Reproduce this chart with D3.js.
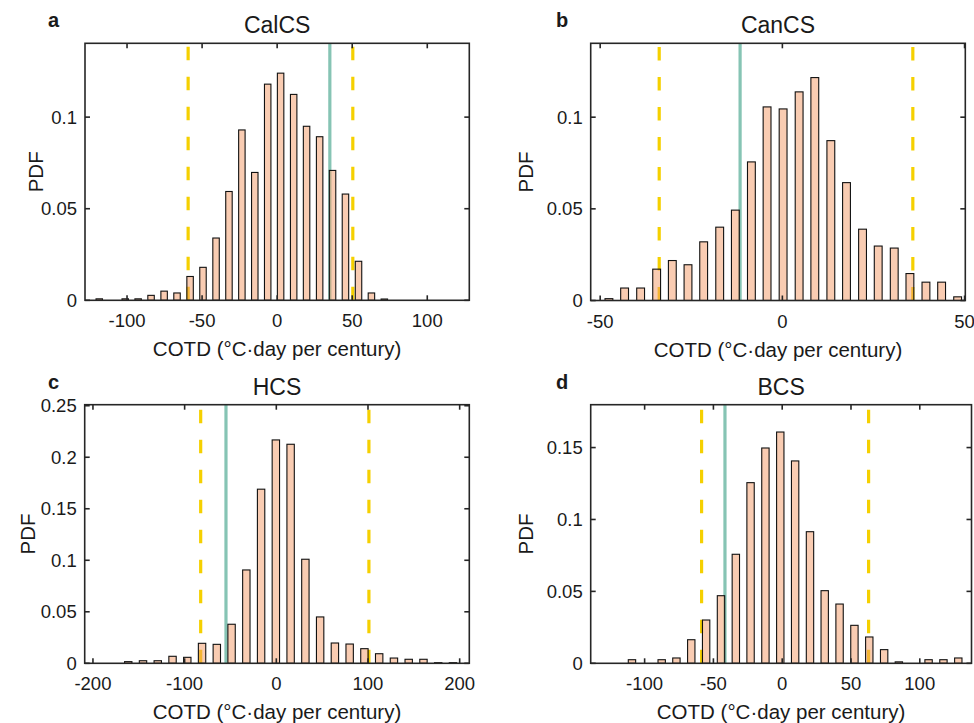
<!DOCTYPE html>
<html>
<head>
<meta charset="utf-8">
<script src="https://cdn.jsdelivr.net/npm/d3@7"></script>
<style>
  html, body { margin: 0; padding: 0; background: #fff; }
  svg { display: block; }
  text { font-family: "Liberation Sans", Arial, Helvetica, sans-serif; fill: #1a1a1a; }
</style>
</head>
<body>
<svg id="chart" width="974" height="723"></svg>
<script>
// ---------------- DATA ----------------
// Panel a: CalCS
const calcsCenters = [-118.5, -101.2, -92.6, -84.0, -75.3, -66.7, -58.0, -49.4, -40.7, -32.1, -23.5, -14.9, -6.3, 2.3, 11.0, 19.6, 28.3, 36.9, 45.5, 54.2, 62.8, 71.4];
const calcsPdf     = [0.0008, 0.0008, 0.0008, 0.0027, 0.005, 0.004, 0.013, 0.018, 0.034, 0.0594, 0.093, 0.0698, 0.118, 0.124, 0.1124, 0.095, 0.0893, 0.0709, 0.058, 0.0213, 0.004, 0.0007];
const calcsBounds  = [-59.3, 50.4];
const calcsObs     = 35.1;

// Panel b: CanCS
const cancsCenters = [-47.6, -43.3, -38.9, -34.5, -30.2, -25.9, -21.6, -17.2, -12.9, -8.5, -4.2, 0.2, 4.6, 8.9, 13.3, 17.6, 22.0, 26.3, 30.7, 35.0, 39.4, 43.7, 48.1];
const cancsPdf     = [0.001, 0.0068, 0.0068, 0.0171, 0.0218, 0.0195, 0.032, 0.040, 0.0493, 0.0756, 0.1056, 0.1045, 0.1138, 0.1216, 0.0872, 0.0643, 0.0389, 0.0297, 0.0286, 0.0147, 0.010, 0.010, 0.002];
const cancsBounds  = [-33.8, 35.8];
const cancsObs     = -11.6;

// Panel c: HCS
const hcsCenters = [-161.5, -145.4, -129.3, -113.2, -97.1, -81.0, -64.9, -48.8, -32.7, -16.6, -0.5, 15.6, 31.7, 47.8, 63.9, 80.0, 96.1, 112.2, 128.3, 144.4, 160.5, 176.6, 192.7];
const hcsPdf     = [0.0016, 0.0025, 0.0025, 0.0068, 0.0058, 0.0194, 0.0184, 0.0379, 0.0906, 0.169, 0.2168, 0.2126, 0.101, 0.045, 0.0197, 0.0187, 0.0142, 0.0093, 0.0051, 0.0039, 0.0039, 0.0006, 0.0006];
const hcsBounds  = [-82.5, 101.0];
const hcsObs     = -54.9;

// Panel d: BCS
const bcsCenters = [-109.2, -87.6, -76.9, -66.1, -55.3, -44.5, -33.7, -23.0, -12.2, -1.4, 9.4, 20.2, 30.9, 41.7, 52.5, 63.3, 74.1, 84.8, 106.4, 117.2, 128.0];
const bcsPdf     = [0.0025, 0.0025, 0.0037, 0.0164, 0.0301, 0.047, 0.0758, 0.1256, 0.1497, 0.1608, 0.1407, 0.0915, 0.0505, 0.0412, 0.0264, 0.0183, 0.0095, 0.001, 0.0025, 0.0025, 0.0037];
const bcsBounds  = [-58.6, 62.8];
const bcsObs     = -41.6;

// Axis ranges and ticks
const calcsXDomain = [-128, 128];   const calcsYDomain = [0, 0.1403];
const cancsXDomain = [-52.6, 50.2]; const cancsYDomain = [0, 0.1403];
const hcsXDomain   = [-209, 210.5]; const hcsYDomain   = [0, 0.251];
const bcsXDomain   = [-139.2, 137.6]; const bcsYDomain = [0, 0.1798];

const calcsXTicks = [-100, -50, 0, 50, 100];
const cancsXTicks = [-50, 0, 50];
const hcsXTicks   = [-200, -100, 0, 100, 200];
const bcsXTicks   = [-100, -50, 0, 50, 100];
const calcsYTicks = [0, 0.05, 0.1];
const cancsYTicks = [0, 0.05, 0.1];
const hcsYTicks   = [0, 0.05, 0.1, 0.15, 0.2, 0.25];
const bcsYTicks   = [0, 0.05, 0.1, 0.15];

const titles  = ["CalCS", "CanCS", "HCS", "BCS"];
const letters = ["a", "b", "c", "d"];
const xLabel  = "COTD (°C·day per century)";
const yLabel  = "PDF";

// ---------------- LAYOUT ----------------
const panels = [
  { centers: calcsCenters, pdf: calcsPdf, bounds: calcsBounds, obs: calcsObs, xd: calcsXDomain, yd: calcsYDomain, xt: calcsXTicks, yt: calcsYTicks,
    box: { x0: 85, x1: 469.3, y0: 43.3, y1: 300.3 }, ylabX: 36, letterX: 48 },
  { centers: cancsCenters, pdf: cancsPdf, bounds: cancsBounds, obs: cancsObs, xd: cancsXDomain, yd: cancsYDomain, xt: cancsXTicks, yt: cancsYTicks,
    box: { x0: 590.7, x1: 965.3, y0: 43.3, y1: 300.5 }, ylabX: 526, letterX: 556 },
  { centers: hcsCenters, pdf: hcsPdf, bounds: hcsBounds, obs: hcsObs, xd: hcsXDomain, yd: hcsYDomain, xt: hcsXTicks, yt: hcsYTicks,
    box: { x0: 84.7, x1: 469.3, y0: 404.7, y1: 663.3 }, ylabX: 28, letterX: 48 },
  { centers: bcsCenters, pdf: bcsPdf, bounds: bcsBounds, obs: bcsObs, xd: bcsXDomain, yd: bcsYDomain, xt: bcsXTicks, yt: bcsYTicks,
    box: { x0: 590.7, x1: 971.5, y0: 404.7, y1: 663.3 }, ylabX: 526, letterX: 556 }
];

const axisColor = "#262626";
const yellow = "#f5d000";
const teal = "#86c4b4";
const tickLen = 5;
const fmtTick = v => String(+v.toFixed(4));

const svg = d3.select("#chart");

panels.forEach((p, i) => {
  const b = p.box;
  const x = d3.scaleLinear().domain(p.xd).range([b.x0, b.x1]);
  const y = d3.scaleLinear().domain(p.yd).range([b.y1, b.y0]);
  const g = svg.append("g");

  const clipId = "clip" + i;
  svg.append("clipPath").attr("id", clipId)
    .append("rect").attr("x", b.x0).attr("y", b.y0).attr("width", b.x1 - b.x0).attr("height", b.y1 - b.y0);

  const plot = g.append("g").attr("clip-path", `url(#${clipId})`);

  // reference lines (behind the semi-transparent bars)
  p.bounds.forEach(v => {
    plot.append("line")
      .attr("x1", x(v)).attr("x2", x(v))
      .attr("y1", b.y1).attr("y2", b.y0)
      .attr("stroke", yellow).attr("stroke-width", 3.2)
      .attr("stroke-dasharray", "13.5,16.5");
  });
  plot.append("line")
    .attr("x1", x(p.obs)).attr("x2", x(p.obs))
    .attr("y1", b.y1).attr("y2", b.y0)
    .attr("stroke", teal).attr("stroke-width", 3.2);

  // bars
  let minStep = Infinity;
  for (let k = 1; k < p.centers.length; k++) minStep = Math.min(minStep, p.centers[k] - p.centers[k - 1]);
  const bw = Math.abs(x(minStep) - x(0)) * 0.5;
  plot.selectAll("rect.bar").data(p.centers.map((c, k) => ({ c, v: p.pdf[k] })))
    .enter().append("rect").attr("class", "bar")
    .attr("x", d => x(d.c) - bw / 2)
    .attr("width", bw)
    .attr("y", d => y(d.v))
    .attr("height", d => y(0) - y(d.v))
    .attr("fill", "#f49966").attr("fill-opacity", 0.5)
    .attr("stroke", "#111").attr("stroke-width", 1.1);

  // axes box
  g.append("rect")
    .attr("x", b.x0).attr("y", b.y0).attr("width", b.x1 - b.x0).attr("height", b.y1 - b.y0)
    .attr("fill", "none").attr("stroke", axisColor).attr("stroke-width", 1.6);

  // x ticks (bottom and top, inward)
  p.xt.forEach(t => {
    const xx = x(t);
    g.append("line").attr("x1", xx).attr("x2", xx).attr("y1", b.y1).attr("y2", b.y1 - tickLen)
      .attr("stroke", axisColor).attr("stroke-width", 1.6);
    g.append("line").attr("x1", xx).attr("x2", xx).attr("y1", b.y0).attr("y2", b.y0 + tickLen)
      .attr("stroke", axisColor).attr("stroke-width", 1.6);
    g.append("text").attr("x", xx).attr("y", b.y1 + 27)
      .attr("text-anchor", "middle").attr("font-size", 18.5)
      .text(fmtTick(t));
  });
  // y ticks (left and right, inward)
  p.yt.forEach(t => {
    const yy = y(t);
    g.append("line").attr("x1", b.x0).attr("x2", b.x0 + tickLen).attr("y1", yy).attr("y2", yy)
      .attr("stroke", axisColor).attr("stroke-width", 1.6);
    g.append("line").attr("x1", b.x1).attr("x2", b.x1 - tickLen).attr("y1", yy).attr("y2", yy)
      .attr("stroke", axisColor).attr("stroke-width", 1.6);
    g.append("text").attr("x", b.x0 - 8).attr("y", yy).attr("dy", "0.36em")
      .attr("text-anchor", "end").attr("font-size", 18.5)
      .text(fmtTick(t));
  });

  // labels
  g.append("text").attr("x", (b.x0 + b.x1) / 2).attr("y", b.y1 + 56)
    .attr("text-anchor", "middle").attr("font-size", 20.5).text(xLabel);
  g.append("text").attr("transform", `translate(${p.ylabX},${(b.y0 + b.y1) / 2}) rotate(-90)`)
    .attr("dy", "0.36em").attr("text-anchor", "middle").attr("font-size", 20.5).text(yLabel);
  g.append("text").attr("x", (b.x0 + b.x1) / 2).attr("y", b.y0 - 10)
    .attr("text-anchor", "middle").attr("font-size", 23).text(titles[i]);
  g.append("text").attr("x", p.letterX).attr("y", b.y0 - 16)
    .attr("font-size", 20).attr("font-weight", "bold").text(letters[i]);
});
</script>
</body>
</html>
